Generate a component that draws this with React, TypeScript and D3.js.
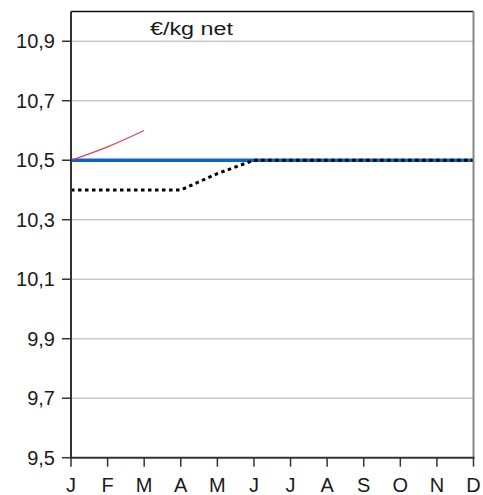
import React from "react";
import * as d3 from "d3";

const months = ["J", "F", "M", "A", "M", "J", "J", "A", "S", "O", "N", "D"];
const yTicks = [9.5, 9.7, 9.9, 10.1, 10.3, 10.5, 10.7, 10.9];
const blueSeries = [10.5, 10.5, 10.5, 10.5, 10.5, 10.5, 10.5, 10.5, 10.5, 10.5, 10.5, 10.5];
const redSeries = [10.5, 10.545, 10.6];
const dottedSeries = [10.4, 10.4, 10.4, 10.4, 10.455, 10.5, 10.5, 10.5, 10.5, 10.5, 10.5, 10.5];
const unitLabel = "€/kg net";

const W = 483;
const H = 495;
const left = 71;
const right = 473.5;
const top = 11.5;
const bottom = 457.7;
const font = "'Liberation Sans', Arial, sans-serif";

export default function App() {
  const x = d3.scaleLinear().domain([0, months.length - 1]).range([left, right]);
  const y = d3.scaleLinear().domain([9.5, 11.0]).range([bottom, top]);
  const fmt = (v: number) => d3.format(".1f")(v).replace(".", ",");

  const line = d3
    .line<number>()
    .x((_, i) => x(i))
    .y((d) => y(d));
  const smooth = d3
    .line<number>()
    .x((_, i) => x(i))
    .y((d) => y(d))
    .curve(d3.curveMonotoneX);

  return (
    <svg
      width={W}
      height={H}
      style={{ position: "absolute", left: 0, top: 0, background: "#fff" }}
    >
      {/* horizontal grid */}
      {yTicks
        .filter((v) => v > 9.5)
        .map((v) => (
          <line
            key={"g" + v}
            x1={left}
            x2={right}
            y1={y(v)}
            y2={y(v)}
            stroke="#c8c8c8"
            strokeWidth={1.5}
          />
        ))}

      {/* series */}
      <path d={line(blueSeries) || ""} fill="none" stroke="#0b63c5" strokeWidth={3.5} />
      <path
        d={line(dottedSeries) || ""}
        fill="none"
        stroke="#000"
        strokeWidth={3}
        strokeDasharray="3.5,3.5"
      />
      <path d={smooth(redSeries) || ""} fill="none" stroke="#e0404a" strokeWidth={1.2} />

      {/* frame */}
      <line x1={left} x2={right} y1={top} y2={top} stroke="#111" strokeWidth={1.5} />
      <line x1={right} x2={right} y1={top} y2={bottom} stroke="#888" strokeWidth={2} />
      <line x1={left} x2={left} y1={top} y2={bottom + 1} stroke="#333" strokeWidth={2} />
      <line x1={left - 1} x2={right + 1} y1={bottom} y2={bottom} stroke="#333" strokeWidth={2} />

      {/* y axis */}
      {yTicks.map((v) => (
        <g key={"y" + v}>
          <line x1={left - 9} x2={left} y1={y(v)} y2={y(v)} stroke="#333" strokeWidth={1.5} />
          <text
            x={55}
            y={y(v)}
            dy="0.36em"
            textAnchor="end"
            fontFamily={font}
            fontSize={20}
            fill="#1a1a1a"
          >
            {fmt(v)}
          </text>
        </g>
      ))}

      {/* x axis */}
      {months.map((m, i) => (
        <g key={"x" + i}>
          <line x1={x(i)} x2={x(i)} y1={bottom} y2={bottom + 9} stroke="#333" strokeWidth={1.5} />
          <text
            x={x(i)}
            y={492}
            textAnchor="middle"
            fontFamily={font}
            fontSize={20}
            fill="#1a1a1a"
          >
            {m}
          </text>
        </g>
      ))}

      <text
        x={150}
        y={35}
        fontFamily={font}
        fontSize={18}
        textLength={83}
        lengthAdjust="spacingAndGlyphs"
        fill="#1a1a1a"
      >
        {unitLabel}
      </text>
    </svg>
  );
}
